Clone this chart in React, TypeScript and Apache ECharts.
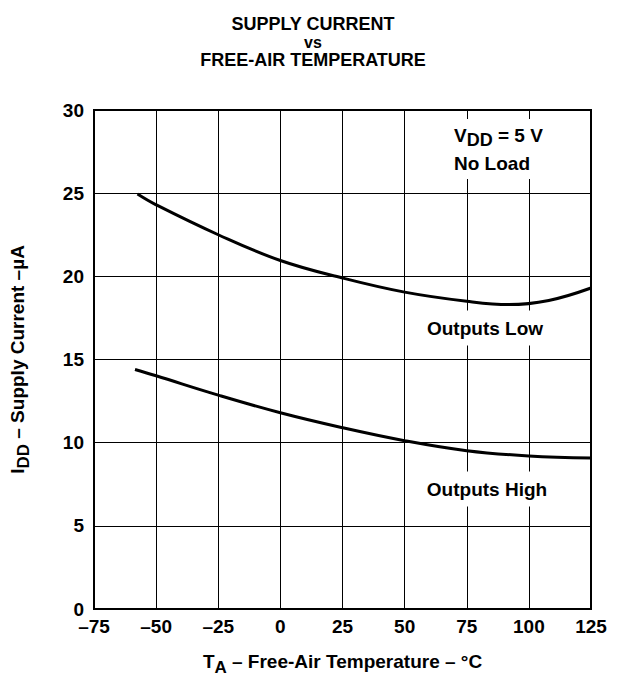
import React, { useEffect, useRef } from "react";
import * as echarts from "echarts";

const xTicks = [-75, -50, -25, 0, 25, 50, 75, 100, 125];
const lowTemps = [-57.5, -50, -25, 0, 25, 50, 75, 92, 108, 125];
const lowCurrent = [24.95, 24.3, 22.5, 20.95, 19.9, 19.05, 18.5, 18.3, 18.55, 19.3];
const highTemps = [-58.5, -50, -25, 0, 25, 50, 75, 100, 125];
const highCurrent = [14.4, 14.02, 12.86, 11.8, 10.9, 10.12, 9.52, 9.2, 9.08];

const FONT = "'Liberation Sans', Arial, Helvetica, sans-serif";

export default function App() {
  const ref = useRef<HTMLDivElement>(null);
  useEffect(() => {
    document.body.style.margin = "0";
    const chart = echarts.init(ref.current!, undefined, { renderer: "svg" });
    const zip = (xs: number[], ys: number[]) => xs.map((x, i) => [x, ys[i]]);
    const labelBox = (x: number, y: number, text: string) => ({
      type: "text",
      x,
      y,
      z: 100,
      style: {
        text,
        fontFamily: FONT,
        fontWeight: "bold",
        fontSize: 19,
        fill: "#000",
        align: "center",
        verticalAlign: "middle",
        backgroundColor: "#fff",
        padding: [8, 8, 8, 8],
      },
    });
    chart.setOption({
      animation: false,
      backgroundColor: "#fff",
      textStyle: { fontFamily: FONT },
      title: {
        left: 308,
        textAlign: "center",
        top: 9,
        text: "{a|SUPPLY CURRENT}\n{b|vs}\n{a|FREE-AIR TEMPERATURE}",
        textStyle: {
          rich: {
            a: { fontFamily: FONT, fontWeight: "bold", fontSize: 18, lineHeight: 20, color: "#000" },
            b: { fontFamily: FONT, fontWeight: "bold", fontSize: 16, lineHeight: 16, color: "#000" },
          },
        },
      },
      grid: {
        left: 90,
        right: 26,
        top: 110,
        bottom: 83,
        show: true,
        borderColor: "#000",
        borderWidth: 2,
        backgroundColor: "transparent",
      },
      xAxis: {
        type: "value",
        min: -75,
        max: 125,
        interval: 25,
        axisLine: { show: true, onZero: false, lineStyle: { color: "#000", width: 2 } },
        axisTick: { show: false },
        splitLine: { show: true, lineStyle: { color: "#000", width: 1 } },
        axisLabel: {
          color: "#000",
          fontFamily: FONT,
          fontWeight: "bold",
          fontSize: 19,
          margin: 8,
          formatter: (v: number) => (xTicks.includes(v) ? (v < 0 ? "\u2013" + Math.abs(v) : String(v)) : ""),
        },
        name: "{m|T}{s|A}{m| \u2013 Free-Air Temperature \u2013 \u00B0C}",
        nameLocation: "middle",
        nameGap: 38,
        nameTextStyle: {
          rich: {
            m: { fontFamily: FONT, fontWeight: "bold", fontSize: 19, color: "#000" },
            s: { fontFamily: FONT, fontWeight: "bold", fontSize: 17, color: "#000", padding: [12, 0, 0, 0] },
          },
        },
      },
      yAxis: {
        type: "value",
        min: 0,
        max: 30,
        interval: 5,
        axisLine: { show: true, onZero: false, lineStyle: { color: "#000", width: 2 } },
        axisTick: { show: false },
        splitLine: { show: true, lineStyle: { color: "#000", width: 1 } },
        axisLabel: {
          color: "#000",
          fontFamily: FONT,
          fontWeight: "bold",
          fontSize: 19,
          margin: 10,
        },
        name: "{m|I}{s|DD}{m| \u2013 Supply Current \u2013\u00B5A}",
        nameLocation: "middle",
        nameRotate: 90,
        nameGap: 62,
        nameTextStyle: {
          rich: {
            m: { fontFamily: FONT, fontWeight: "bold", fontSize: 19, color: "#000" },
            s: { fontFamily: FONT, fontWeight: "bold", fontSize: 17, color: "#000", padding: [12, 0, 0, 0] },
          },
        },
      },
      series: [
        {
          name: "Outputs Low",
          type: "line",
          data: zip(lowTemps, lowCurrent),
          smooth: 0.4,
          showSymbol: false,
          lineStyle: { color: "#000", width: 3 },
        },
        {
          name: "Outputs High",
          type: "line",
          data: zip(highTemps, highCurrent),
          smooth: 0.4,
          showSymbol: false,
          lineStyle: { color: "#000", width: 3 },
        },
      ],
      graphic: [
        {
          type: "text",
          x: 446,
          y: 149,
          z: 100,
          style: {
            text: "{m|V}{s|DD}{m| = 5 V}\n{m|No Load}",
            fontFamily: FONT,
            fontWeight: "bold",
            fill: "#000",
            align: "left",
            verticalAlign: "middle",
            backgroundColor: "#fff",
            padding: [2, 8, 2, 8],
            rich: {
              m: { fontFamily: FONT, fontWeight: "bold", fontSize: 19, lineHeight: 28, fill: "#000" },
              s: { fontFamily: FONT, fontWeight: "bold", fontSize: 18, lineHeight: 28, fill: "#000", padding: [10, 0, 0, 0] },
            },
          },
        },
        labelBox(485, 328, "Outputs Low"),
        labelBox(487, 489, "Outputs High"),
      ],
    });
    return () => chart.dispose();
  }, []);
  return <div ref={ref} style={{ width: 617, height: 692 }} />;
}
